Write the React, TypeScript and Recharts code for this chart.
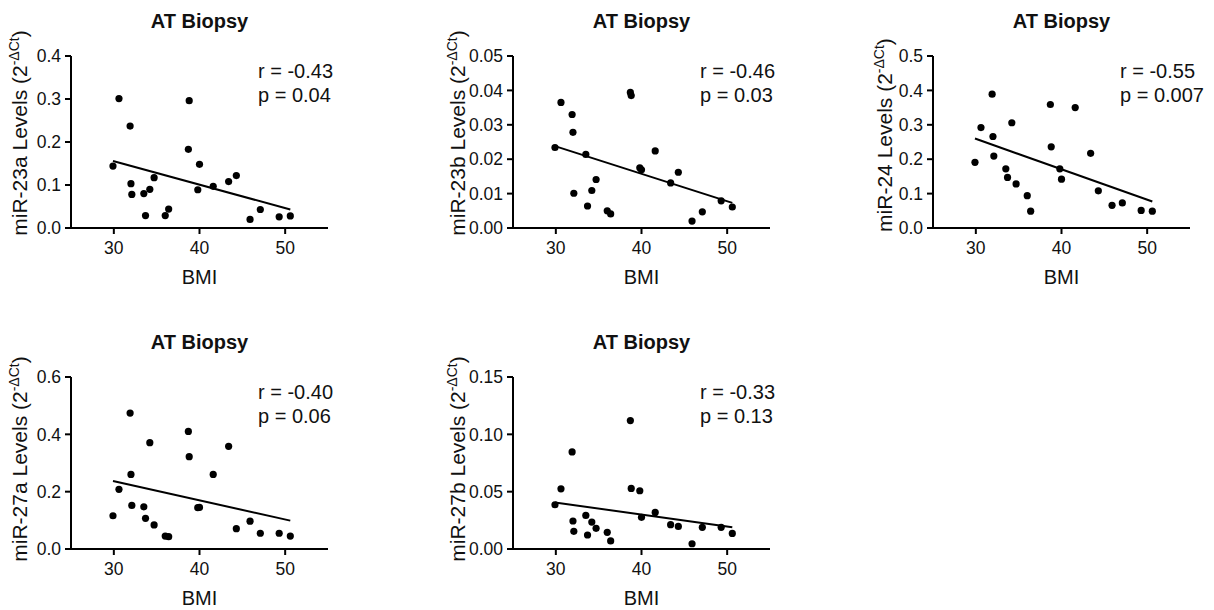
import React from 'react';
import { ScatterChart, Scatter, XAxis, YAxis, ReferenceLine } from 'recharts';

// BMI of each subject (shared across all five panels)
const bmi = [29.9, 30.6, 31.9, 32.0, 32.1, 33.5, 33.7, 34.2, 34.7, 36.0, 36.4, 38.7, 38.8, 39.8, 40.0, 41.6, 43.4, 44.3, 45.9, 47.1, 49.3, 50.6];

// miRNA levels (2^-ΔCt), same subject order as bmi
const mir23a = [0.144, 0.301, 0.237, 0.103, 0.078, 0.080, 0.029, 0.090, 0.117, 0.029, 0.044, 0.183, 0.296, 0.089, 0.148, 0.097, 0.108, 0.122, 0.020, 0.043, 0.026, 0.028];
const mir23b = [0.0234, 0.0365, 0.0330, 0.0278, 0.0101, 0.0214, 0.0064, 0.0109, 0.0141, 0.0050, 0.0041, 0.0394, 0.0385, 0.0175, 0.0169, 0.0224, 0.0131, 0.0162, 0.0020, 0.0047, 0.0079, 0.0061];
const mir24 = [0.191, 0.292, 0.389, 0.266, 0.209, 0.172, 0.147, 0.306, 0.128, 0.094, 0.049, 0.359, 0.236, 0.172, 0.142, 0.350, 0.217, 0.108, 0.066, 0.073, 0.051, 0.049];
const mir27a = [0.116, 0.208, 0.474, 0.260, 0.152, 0.147, 0.107, 0.371, 0.084, 0.045, 0.043, 0.410, 0.322, 0.144, 0.145, 0.260, 0.358, 0.071, 0.097, 0.055, 0.055, 0.045];
const mir27b = [0.0386, 0.0525, 0.0847, 0.0244, 0.0154, 0.0293, 0.0122, 0.0235, 0.0180, 0.0145, 0.0070, 0.1120, 0.0528, 0.0508, 0.0276, 0.0319, 0.0212, 0.0197, 0.0046, 0.0189, 0.0189, 0.0136];

// linear fit endpoints (at fitBmi[0] and fitBmi[1])
const fitBmi = [29.9, 50.6];
const fit23a = [0.156, 0.043];
const fit23b = [0.0238, 0.0073];
const fit24 = [0.260, 0.077];
const fit27a = [0.237, 0.099];
const fit27b = [0.0406, 0.0189];

const bmiTicks = [30, 40, 50];
const ticks23a = [0, 0.1, 0.2, 0.3, 0.4];
const ticks23b = [0, 0.01, 0.02, 0.03, 0.04, 0.05];
const ticks24 = [0, 0.1, 0.2, 0.3, 0.4, 0.5];
const ticks27a = [0, 0.2, 0.4, 0.6];
const ticks27b = [0, 0.05, 0.1, 0.15];

const rValues = ['-0.43', '-0.46', '-0.55', '-0.40', '-0.33'];
const pValues = ['0.04', '0.03', '0.007', '0.06', '0.13'];

const FONT = '"Liberation Sans", Arial, Helvetica, sans-serif';
const W = 408;
const H = 290;
const PLOT_LEFT = 71;
const PLOT_TOP = 56;
const PLOT_W = 257;
const Y_AXIS_W = 60;
const X_AXIS_H = 30;

const yLabel = (name: string, dx: number, dy: number) => (props: any) => {
  const vb = props.viewBox || {};
  const x = vb.x + vb.width + dx;
  const y = vb.y + dy;
  return (
    <text
      x={x}
      y={y}
      transform={`rotate(-90 ${x} ${y})`}
      textAnchor="middle"
      fontSize={21}
      fontFamily={FONT}
      fill="#111"
    >
      {name} Levels (2
      <tspan dy={-8} fontSize={14}>-ΔCt</tspan>
      <tspan dy={8}>)</tspan>
    </text>
  );
};

const xLabel = (props: any) => {
  const vb = props.viewBox || {};
  return (
    <text
      x={vb.x + vb.width / 2}
      y={vb.y + 56}
      textAnchor="middle"
      fontSize={20}
      fontFamily={FONT}
      fill="#111"
    >
      BMI
    </text>
  );
};

const dot = (props: any) => <circle cx={props.cx} cy={props.cy} r={3.6} fill="#000" />;

interface PanelProps {
  left: number;
  top: number;
  name: string;
  values: number[];
  fit: number[];
  ticks: number[];
  decimals: number;
  r: string;
  p: string;
  labelDx: number;
  labelDy: number;
}

function Panel({ left, top, name, values, fit, ticks, decimals, r, p, labelDx, labelDy }: PanelProps) {
  const data = bmi.map((x, i) => ({ bmi: x, level: values[i] }));
  const axisStroke = { stroke: '#000', strokeWidth: 2 };
  const tickStyle = { fontSize: 17.5, fill: '#111', fontFamily: FONT };
  return (
    <div style={{ position: 'absolute', left, top, width: W, height: H }}>
      <ScatterChart
        width={W}
        height={H}
        margin={{ top: PLOT_TOP, left: PLOT_LEFT - Y_AXIS_W, right: W - PLOT_LEFT - PLOT_W, bottom: H - PLOT_TOP - 172 - X_AXIS_H }}
      >
        <XAxis
          type="number"
          dataKey="bmi"
          domain={[25, 55]}
          ticks={bmiTicks}
          height={X_AXIS_H}
          tickSize={6}
          tickMargin={8}
          axisLine={axisStroke}
          tickLine={axisStroke}
          tick={tickStyle}
          label={xLabel}
        />
        <YAxis
          type="number"
          dataKey="level"
          domain={[0, ticks[ticks.length - 1]]}
          ticks={ticks}
          width={Y_AXIS_W}
          tickSize={6}
          tickMargin={4}
          axisLine={axisStroke}
          tickLine={axisStroke}
          tick={tickStyle}
          tickFormatter={(v: number) => v.toFixed(decimals)}
          label={yLabel(name, labelDx, labelDy)}
        />
        <ReferenceLine
          segment={[
            { x: fitBmi[0], y: fit[0] },
            { x: fitBmi[1], y: fit[1] },
          ]}
          stroke="#000"
          strokeWidth={2}
        />
        <Scatter data={data} shape={dot} isAnimationActive={false} />
      </ScatterChart>
      <div
        style={{
          position: 'absolute',
          left: PLOT_LEFT,
          top: PLOT_TOP - 45,
          width: PLOT_W,
          textAlign: 'center',
          fontFamily: FONT,
          fontWeight: 'bold',
          fontSize: 20,
          lineHeight: '20px',
          color: '#111',
        }}
      >
        AT Biopsy
      </div>
      <div
        style={{
          position: 'absolute',
          left: PLOT_LEFT + 187,
          top: PLOT_TOP + 3,
          fontFamily: FONT,
          fontSize: 20,
          lineHeight: '24px',
          color: '#111',
          whiteSpace: 'nowrap',
        }}
      >
        r = {r}
        <br />
        p = {p}
      </div>
    </div>
  );
}

export default function App() {
  return (
    <div style={{ position: 'absolute', left: 0, top: 0, width: 1214, height: 610, overflow: 'hidden', background: '#fff' }}>
      <Panel left={0} top={0} name="miR-23a" values={mir23a} fit={fit23a} ticks={ticks23a} decimals={1} r={rValues[0]} p={pValues[0]} labelDx={-44} labelDy={77} />
      <Panel left={442} top={0} name="miR-23b" values={mir23b} fit={fit23b} ticks={ticks23b} decimals={2} r={rValues[1]} p={pValues[1]} labelDx={-48} labelDy={77} />
      <Panel left={862} top={0} name="miR-24" values={mir24} fit={fit24} ticks={ticks24} decimals={1} r={rValues[2]} p={pValues[2]} labelDx={-41} labelDy={79} />
      <Panel left={0} top={321} name="miR-27a" values={mir27a} fit={fit27a} ticks={ticks27a} decimals={1} r={rValues[3]} p={pValues[3]} labelDx={-44} labelDy={82} />
      <Panel left={442} top={321} name="miR-27b" values={mir27b} fit={fit27b} ticks={ticks27b} decimals={2} r={rValues[4]} p={pValues[4]} labelDx={-48} labelDy={82} />
    </div>
  );
}
